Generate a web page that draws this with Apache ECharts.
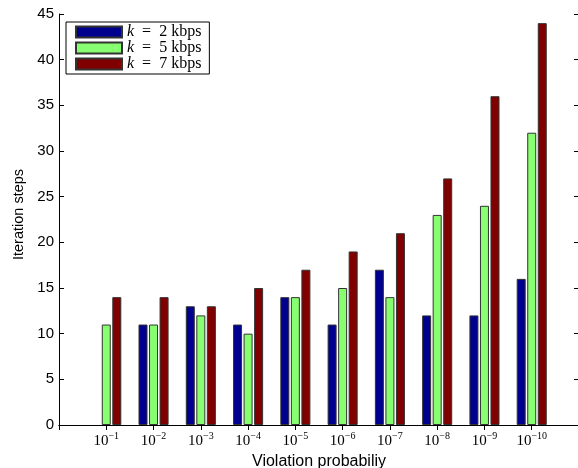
<!DOCTYPE html>
<html>
<head>
<meta charset="utf-8">
<script src="https://cdn.jsdelivr.net/npm/echarts@6/dist/echarts.min.js"></script>
<style>
  html, body { margin: 0; padding: 0; background: #fff; }
  #chart { width: 578px; height: 468px; }
</style>
</head>
<body>
<div id="chart"></div>
<script>
// exponents of the violation probability, 10^-1 ... 10^-10
const exponents = ['−1', '−2', '−3', '−4', '−5', '−6', '−7', '−8', '−9', '−10']
const k2 = [null, 11, 13, 11, 14, 11, 17, 12, 12, 16]
const k5 = [11, 11, 12, 10, 14, 15, 14, 23, 24, 32]
const k7 = [14, 14, 13, 15, 17, 19, 21, 27, 36, 44]
const yTicks = [0, 5, 10, 15, 20, 25, 30, 35, 40, 45]

// one empty slot on each side, like the matlab axis 0..11
const cats = [''].concat(exponents, [''])
const pad = arr => [null].concat(arr, [null])

const serif = '"Liberation Serif", "DejaVu Serif", serif'
const sans = '"Liberation Sans", Arial, sans-serif'

const barBase = {
  type: 'bar',
  barWidth: 9,
  barGap: '17%',
  itemStyle: { borderColor: '#333', borderWidth: 1 }
}

const myChart = echarts.init(document.getElementById('chart'), null, { renderer: 'canvas' })
myChart.setOption({
  animation: false,
  backgroundColor: '#fff',
  grid: { left: 59, top: 14, width: 520, bottom: 43, containLabel: false, outerBoundsMode: 'none' },
  legend: {
    left: 66,
    top: 22,
    orient: 'vertical',
    icon: 'rect',
    itemWidth: 46,
    itemHeight: 11,
    itemGap: 0,
    padding: [2, 8, 2, 9],
    backgroundColor: '#fff',
    borderColor: '#000',
    borderWidth: 1,
    borderRadius: 0,
    textStyle: {
      color: '#000',
      fontFamily: serif,
      fontSize: 16,
      lineHeight: 16,
      rich: {
        i: { fontStyle: 'italic', fontFamily: serif, fontSize: 16, lineHeight: 16 },
        r: { fontFamily: serif, fontSize: 16, lineHeight: 16 }
      }
    },
    formatter: name => '{i|k}{r|\u2002=\u2002' + name.replace('k = ', '') + '}',
    data: ['k = 2 kbps', 'k = 5 kbps', 'k = 7 kbps']
  },
  xAxis: [
    {
      type: 'category',
      data: cats,
      boundaryGap: false,
      name: 'Violation probabiliy',
      nameLocation: 'middle',
      nameGap: 22,
      nameTextStyle: { color: '#000', fontFamily: sans, fontSize: 16 },
      axisLine: { lineStyle: { color: '#000', width: 1 } },
      axisTick: { inside: true, length: 5, lineStyle: { color: '#000' } },
      axisLabel: {
        interval: 0,
        margin: 6,
        color: '#000',
        formatter: v => v === '' ? '' : '{b|10}{s|' + v + '}',
        rich: {
          b: { fontFamily: serif, fontSize: 15, color: '#000', lineHeight: 18, verticalAlign: 'bottom' },
          s: { fontFamily: serif, fontSize: 10, color: '#000', verticalAlign: 'top', lineHeight: 10 }
        }
      },
      splitLine: { show: false }
    },
    {
      type: 'category',
      data: cats,
      boundaryGap: false,
      position: 'top',
      axisLine: { lineStyle: { color: '#000', width: 1 } },
      axisTick: { inside: true, length: 5, lineStyle: { color: '#000' } },
      axisLabel: { show: false },
      splitLine: { show: false }
    }
  ],
  yAxis: [
    {
      type: 'value',
      min: 0,
      max: 45,
      interval: 5,
      name: 'Iteration steps',
      nameLocation: 'middle',
      nameGap: 33,
      nameTextStyle: { color: '#000', fontFamily: sans, fontSize: 14.5, padding: [0, 0, 0, 10] },
      axisLine: { show: true, lineStyle: { color: '#000', width: 1 } },
      axisTick: { show: true, inside: true, length: 5, lineStyle: { color: '#000' } },
      axisLabel: {
        color: '#000',
        fontFamily: sans,
        fontSize: 15,
        margin: 5,
        formatter: v => yTicks.indexOf(v) >= 0 ? String(v) : ''
      },
      splitLine: { show: false }
    },
    {
      type: 'value',
      min: 0,
      max: 45,
      interval: 5,
      position: 'right',
      axisLine: { show: true, lineStyle: { color: '#000', width: 1 } },
      axisTick: { show: true, inside: true, length: 5, lineStyle: { color: '#000' } },
      axisLabel: { show: false },
      splitLine: { show: false }
    }
  ],
  series: [
    Object.assign({}, barBase, { name: 'k = 2 kbps', data: pad(k2), itemStyle: Object.assign({}, barBase.itemStyle, { color: '#00008f' }) }),
    Object.assign({}, barBase, { name: 'k = 5 kbps', data: pad(k5), itemStyle: Object.assign({}, barBase.itemStyle, { color: '#88ff70' }) }),
    Object.assign({}, barBase, { name: 'k = 7 kbps', data: pad(k7), itemStyle: Object.assign({}, barBase.itemStyle, { color: '#800000' }) })
  ]
})
</script>
</body>
</html>
